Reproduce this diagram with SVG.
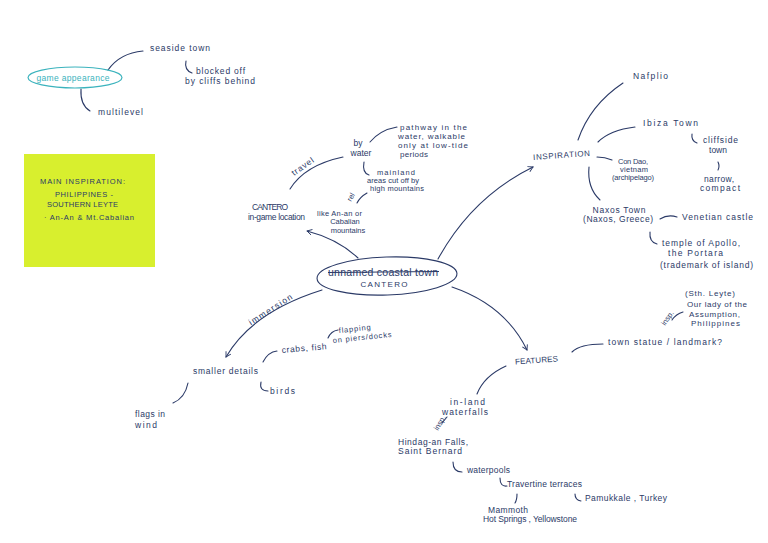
<svg xmlns="http://www.w3.org/2000/svg" width="768" height="543" viewBox="0 0 768 543">
<defs>
<marker id="arr" viewBox="0 0 10 10" refX="8" refY="5" markerWidth="7" markerHeight="7" orient="auto" markerUnits="userSpaceOnUse">
<path d="M1,1 L8,5 L1,9" fill="none" stroke="#2b3a67" stroke-width="1.3"/>
</marker>
<style>
.t{font-family:"Liberation Sans",Arial,sans-serif;font-size:8.5px;fill:#2b3a67}
.c{text-anchor:middle}
.s{font-size:7.5px}
.m{font-size:8px}
.cap{font-size:8px}
.big{font-size:10.5px}
.ln{fill:none;stroke:#2b3a67;stroke-width:1.1;stroke-linecap:round}
.tl{fill:none;stroke:#3bb3bd;stroke-width:1.2}
.teal{fill:#3bb3bd}
</style>
</defs>
<rect width="768" height="543" fill="#ffffff"/>

<g id="connectors">
<path class="ln" d="M108,70 Q120,53 143,51"/>
<path class="ln" d="M186,61 Q184,70 192,73"/>
<path class="ln" d="M81,89 Q80,105 90,111"/>
<path class="ln" d="M358,258 Q338,239 307,231" marker-end="url(#arr)"/>
<path class="ln" d="M438,259 Q472,197 533,167" marker-end="url(#arr)"/>
<path class="ln" d="M452,287 Q505,305 527,350" marker-end="url(#arr)"/>
<path class="ln" d="M322,290 Q252,312 226,357" marker-end="url(#arr)"/>
<path class="ln" d="M290,189 Q305,165 343,157"/>
<path class="ln" d="M370,142 Q380,130 397,127"/>
<path class="ln" d="M364,162 Q362,173 369,175"/>
<path class="ln" d="M367,193 Q360,197 357,203"/>
<path class="ln" d="M578,140 Q590,105 623,83"/>
<path class="ln" d="M598,142 Q610,130 635,127"/>
<path class="ln" d="M692,134 Q691,141 697,143"/>
<path class="ln" d="M718,162 Q720,166 718,170"/>
<path class="ln" d="M597,157 Q605,157 612,160"/>
<path class="ln" d="M589,167 Q587,188 600,200"/>
<path class="ln" d="M660,219 Q668,214 677,217"/>
<path class="ln" d="M650,232 Q649,242 657,244"/>
<path class="ln" d="M572,352 Q580,344 603,344"/>
<path class="ln" d="M672,320 Q676,314 683,312"/>
<path class="ln" d="M506,366 Q484,376 477,394"/>
<path class="ln" d="M442,423 L447,417"/>
<path class="ln" d="M453,462 Q453,472 462,472"/>
<path class="ln" d="M500,478 Q500,487 507,486"/>
<path class="ln" d="M517,494 Q517,500 515,503"/>
<path class="ln" d="M575,494 Q575,500 581,501"/>
<path class="ln" d="M263,362 Q268,352 277,351"/>
<path class="ln" d="M328,338 Q331,331 338,330"/>
<path class="ln" d="M261,382 Q259,391 268,391"/>
<path class="ln" d="M188,383 Q185,398 173,403"/>
</g>

<g id="game-appearance">
<ellipse cx="75" cy="77.5" rx="47" ry="10.5" class="tl"/>
<text class="t c teal" x="73" y="80.5" textLength="73" lengthAdjust="spacing">game appearance</text>
</g>
<g id="seaside-town"><text class="t" x="150" y="51" textLength="60" lengthAdjust="spacing">seaside town</text></g>
<g id="blocked-off">
<text class="t" x="196" y="74" textLength="49" lengthAdjust="spacing">blocked off</text>
<text class="t" x="185" y="84" textLength="70" lengthAdjust="spacing">by cliffs behind</text>
</g>
<g id="multilevel"><text class="t" x="98" y="115" textLength="45" lengthAdjust="spacing">multilevel</text></g>

<g id="sticky-note">
<rect x="24" y="154" width="131" height="113" fill="#d8ef2e"/>
<text class="t s" x="40" y="184" textLength="85" lengthAdjust="spacing">MAIN INSPIRATION:</text>
<text class="t s" x="55" y="197" textLength="58" lengthAdjust="spacing">PHILIPPINES -</text>
<text class="t s" x="47" y="207" textLength="71" lengthAdjust="spacing">SOUTHERN LEYTE</text>
<text class="t s" x="44" y="220" textLength="90" lengthAdjust="spacing">· An-An &amp; Mt.Cabalian</text>
</g>

<g id="cantero-center">
<ellipse cx="387" cy="276" rx="70" ry="19" fill="none" stroke="#2b3a67" stroke-width="1.1" transform="rotate(-2 387 276)"/>
<text class="t c big" x="383" y="276" textLength="110" lengthAdjust="spacing">unnamed coastal town</text>
<line x1="328" y1="272.5" x2="439" y2="271.5" stroke="#2b3a67" stroke-width="1"/>
<text class="t c cap" x="384" y="287" textLength="47" lengthAdjust="spacing">CANTERO</text>
</g>

<g id="cantero-location">
<text class="t" x="252" y="210" textLength="36" lengthAdjust="spacing">CANTERO</text>
<text class="t" x="248" y="220" textLength="57" lengthAdjust="spacing">in-game location</text>
</g>
<g id="travel-label"><text class="t" x="0" y="0" transform="translate(294,176) rotate(-35)" textLength="25" lengthAdjust="spacing">travel</text></g>
<g id="by-water">
<text class="t c" x="358" y="146">by</text>
<text class="t c" x="361" y="156">water</text>
</g>
<g id="pathway">
<text class="t m" x="400" y="130" textLength="67" lengthAdjust="spacing">pathway in the</text>
<text class="t m" x="398" y="139" textLength="67" lengthAdjust="spacing">water, walkable</text>
<text class="t m" x="398" y="148" textLength="70" lengthAdjust="spacing">only at low-tide</text>
<text class="t m" x="400" y="157" textLength="28" lengthAdjust="spacing">periods</text>
</g>
<g id="mainland">
<text class="t s" x="377" y="175" textLength="38" lengthAdjust="spacing">mainland</text>
<text class="t s" x="367" y="183" textLength="52" lengthAdjust="spacing">areas cut off by</text>
<text class="t s" x="370" y="191" textLength="54" lengthAdjust="spacing">high mountains</text>
</g>
<g id="rel-label"><text class="t s" x="0" y="0" transform="translate(351,202) rotate(-60)">rel</text></g>
<g id="like-anan">
<text class="t s" x="317" y="215.5" textLength="45" lengthAdjust="spacing">like An-an or</text>
<text class="t c s" x="345" y="224">Cabalian</text>
<text class="t c s" x="348" y="232.5">mountains</text>
</g>

<g id="inspiration"><text class="t cap" x="533" y="158" transform="rotate(-4 560 155)" textLength="57" lengthAdjust="spacing">INSPIRATION</text></g>
<g id="nafplio"><text class="t" x="633" y="79" textLength="35" lengthAdjust="spacing">Nafplio</text></g>
<g id="ibiza"><text class="t" x="643" y="126" textLength="55" lengthAdjust="spacing">Ibiza Town</text></g>
<g id="cliffside">
<text class="t" x="703" y="143" textLength="35" lengthAdjust="spacing">cliffside</text>
<text class="t c" x="718" y="153">town</text>
<text class="t c" x="719" y="182" textLength="30" lengthAdjust="spacing">narrow,</text>
<text class="t c" x="720" y="191" textLength="40" lengthAdjust="spacing">compact</text>
</g>
<g id="con-dao">
<text class="t s" x="618" y="164" textLength="30" lengthAdjust="spacing">Con Dao,</text>
<text class="t s" x="620" y="172" textLength="28" lengthAdjust="spacing">vietnam</text>
<text class="t s" x="612" y="180" textLength="42" lengthAdjust="spacing">(archipelago)</text>
</g>
<g id="naxos">
<text class="t c" x="619" y="213" textLength="53" lengthAdjust="spacing">Naxos Town</text>
<text class="t c" x="618" y="222" textLength="70" lengthAdjust="spacing">(Naxos, Greece)</text>
</g>
<g id="venetian"><text class="t" x="682" y="220" textLength="71" lengthAdjust="spacing">Venetian castle</text></g>
<g id="apollo">
<text class="t" x="662" y="246" textLength="78" lengthAdjust="spacing">temple of Apollo,</text>
<text class="t" x="668" y="256" textLength="55" lengthAdjust="spacing">the Portara</text>
<text class="t" x="660" y="268" textLength="93" lengthAdjust="spacing">(trademark of island)</text>
</g>

<g id="features"><text class="t cap" x="515" y="363" transform="rotate(-4 536 360)" textLength="43" lengthAdjust="spacing">FEATURES</text></g>
<g id="town-statue"><text class="t" x="608" y="345" textLength="114" lengthAdjust="spacing">town statue / landmark?</text></g>
<g id="insp-1"><text class="t s" x="0" y="0" transform="translate(665,326) rotate(-55)">insp.</text></g>
<g id="our-lady">
<text class="t m" x="685" y="296" textLength="50" lengthAdjust="spacing">(Sth. Leyte)</text>
<text class="t m" x="687" y="307" textLength="60" lengthAdjust="spacing">Our lady of the</text>
<text class="t m" x="689" y="317" textLength="51" lengthAdjust="spacing">Assumption,</text>
<text class="t m" x="691" y="326" textLength="49" lengthAdjust="spacing">Philippines</text>
</g>
<g id="waterfalls">
<text class="t" x="450" y="405" textLength="35" lengthAdjust="spacing">in-land</text>
<text class="t" x="442" y="415" textLength="46" lengthAdjust="spacing">waterfalls</text>
</g>
<g id="insp-2"><text class="t s" x="0" y="0" transform="translate(438,431) rotate(-60)">insp.</text></g>
<g id="hindag-an">
<text class="t" x="398" y="445" textLength="70" lengthAdjust="spacing">Hindag-an Falls,</text>
<text class="t" x="398" y="454" textLength="64" lengthAdjust="spacing">Saint Bernard</text>
</g>
<g id="waterpools"><text class="t" x="467" y="473" textLength="43" lengthAdjust="spacing">waterpools</text></g>
<g id="travertine"><text class="t" x="507" y="487" textLength="75" lengthAdjust="spacing">Travertine terraces</text></g>
<g id="mammoth">
<text class="t" x="488" y="513" textLength="40" lengthAdjust="spacing">Mammoth</text>
<text class="t" x="483" y="522" textLength="94" lengthAdjust="spacing">Hot Springs , Yellowstone</text>
</g>
<g id="pamukkale"><text class="t" x="585" y="501" textLength="82" lengthAdjust="spacing">Pamukkale , Turkey</text></g>

<g id="immersion-label"><text class="t c" x="0" y="0" transform="translate(272,312) rotate(-33)" textLength="50" lengthAdjust="spacing">immersion</text></g>
<g id="smaller-details"><text class="t" x="193" y="374" textLength="65" lengthAdjust="spacing">smaller details</text></g>
<g id="crabs"><text class="t" x="282" y="353" transform="rotate(-5 282 353)" textLength="45" lengthAdjust="spacing">crabs, fish</text></g>
<g id="flapping">
<text class="t s" x="339" y="333" transform="rotate(-6 339 333)" textLength="32" lengthAdjust="spacing">flapping</text>
<text class="t s" x="333" y="343" transform="rotate(-6 333 343)" textLength="59" lengthAdjust="spacing">on piers/docks</text>
</g>
<g id="birds"><text class="t" x="270" y="394" textLength="25" lengthAdjust="spacing">birds</text></g>
<g id="flags">
<text class="t" x="135" y="417" textLength="30" lengthAdjust="spacing">flags in</text>
<text class="t" x="135" y="428" textLength="22" lengthAdjust="spacing">wind</text>
</g>
</svg>
